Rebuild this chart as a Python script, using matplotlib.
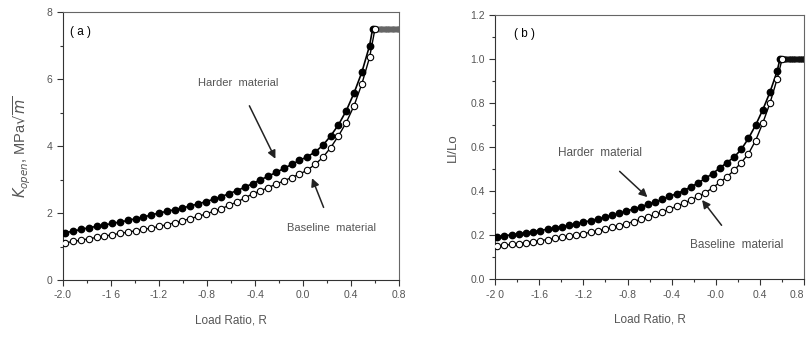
import numpy as np
import matplotlib.pyplot as plt
from matplotlib.ticker import MultipleLocator

plt.rcParams['font.family'] = ['Liberation Sans', 'DejaVu Sans']

# --------------------------
# Data
# --------------------------
# load ratio positions of the markers (shared by all curves)
R = [-1.98, -1.915, -1.85, -1.785, -1.72, -1.655, -1.59, -1.525, -1.46, -1.395,
     -1.33, -1.265, -1.2, -1.135, -1.07, -1.005, -0.94, -0.875, -0.81, -0.745,
     -0.68, -0.615, -0.55, -0.485, -0.42, -0.355, -0.29, -0.225, -0.16, -0.095,
     -0.03, 0.035, 0.1, 0.165, 0.23, 0.295, 0.36, 0.425, 0.49, 0.555]

# (a) K_open, MPa sqrt(m)
k_harder = [1.41, 1.46, 1.51, 1.56, 1.60, 1.64, 1.69, 1.73, 1.78, 1.83,
            1.88, 1.94, 2.00, 2.05, 2.10, 2.15, 2.21, 2.27, 2.34, 2.41,
            2.49, 2.58, 2.67, 2.77, 2.88, 2.99, 3.10, 3.21, 3.33, 3.45,
            3.57, 3.68, 3.82, 4.02, 4.30, 4.63, 5.05, 5.58, 6.20, 7.00]
k_baseline = [1.11, 1.15, 1.19, 1.23, 1.27, 1.31, 1.35, 1.39, 1.43, 1.47,
              1.51, 1.55, 1.60, 1.65, 1.71, 1.77, 1.83, 1.90, 1.97, 2.05,
              2.13, 2.23, 2.33, 2.45, 2.57, 2.66, 2.76, 2.86, 2.96, 3.06,
              3.16, 3.28, 3.45, 3.66, 3.95, 4.30, 4.70, 5.20, 5.85, 6.65]

# (b) Ll/Lo
l_harder = [0.193, 0.197, 0.202, 0.206, 0.211, 0.216, 0.221, 0.227, 0.233, 0.239,
            0.245, 0.252, 0.259, 0.266, 0.274, 0.282, 0.290, 0.299, 0.309, 0.319,
            0.329, 0.340, 0.351, 0.363, 0.376, 0.389, 0.403, 0.420, 0.438, 0.458,
            0.480, 0.505, 0.530, 0.555, 0.590, 0.640, 0.700, 0.770, 0.850, 0.945]
l_baseline = [0.150, 0.154, 0.158, 0.162, 0.166, 0.170, 0.175, 0.180, 0.185, 0.190,
              0.195, 0.201, 0.207, 0.213, 0.220, 0.227, 0.235, 0.243, 0.252, 0.262,
              0.272, 0.283, 0.294, 0.306, 0.318, 0.331, 0.345, 0.360, 0.376, 0.393,
              0.415, 0.440, 0.465, 0.495, 0.530, 0.570, 0.630, 0.710, 0.800, 0.910]

# plateau after the curves saturate
R_flat = [0.58, 0.60, 0.62, 0.64, 0.66, 0.68, 0.70, 0.72, 0.74, 0.76, 0.78, 0.80]
k_flat = [7.5, 7.5, 7.5, 7.5, 7.5, 7.5, 7.5, 7.5, 7.5, 7.5, 7.5, 7.5]
l_flat = [1.0, 1.0, 1.0, 1.0, 1.0, 1.0, 1.0, 1.0, 1.0, 1.0, 1.0, 1.0]
# point where each curve reaches the plateau
R_top_harder = 0.58
R_top_baseline = 0.60

xticks = [-2.0, -1.6, -1.2, -0.8, -0.4, 0.0, 0.4, 0.8]
xlabels_a = ['-2.0', '-1 6', '-1.2', '-0.8', '-0.4', '0.0', '0.4', '0.8']
xlabels_b = ['-2 0', '-1.6', '-1.2', '-0.8', '-0.4', '-0.0', '0.4', '0.8']

TXT = '#555555'

fig = plt.figure(figsize=(8.09, 3.40), dpi=100)
ax1 = fig.add_axes([0.0779, 0.1765, 0.4153, 0.788])
ax2 = fig.add_axes([0.612, 0.179, 0.382, 0.776])


def style_axes(ax, labels):
    ax.set_xlim(-2.0, 0.8)
    ax.set_xticks(xticks)
    ax.set_xticklabels(labels)
    ax.xaxis.set_minor_locator(MultipleLocator(0.2))
    ax.tick_params(which='both', direction='out', colors='#333333',
                   labelcolor=TXT, labelsize=7.5, width=0.8)
    ax.tick_params(which='major', length=4)
    ax.tick_params(which='minor', length=2.5)
    for side in ['left', 'bottom']:
        ax.spines[side].set_color('#333333')
    for side in ['top', 'right']:
        ax.spines[side].set_color('#666666')
    ax.set_xlabel('Load Ratio, R', fontsize=8.5, color=TXT, labelpad=10)


def draw_curves(ax, top, harder, baseline, flat, flat_color):
    ax.plot(R + [R_top_harder], harder + [top], color='black', lw=1.2,
            marker='o', ms=4.6, mfc='black', mec='black', zorder=3)
    ax.plot(R + [R_top_baseline], baseline + [top], color='black', lw=1.0,
            marker='o', ms=4.6, mfc='white', mec='black', mew=0.8, zorder=4)
    ax.plot(R_flat, flat, color=flat_color, lw=3, marker='o', ms=3.5,
            mfc=flat_color, mec=flat_color, zorder=2)


# --------------------------
# (a) Opening stress intensity
# --------------------------
draw_curves(ax1, 7.5, k_harder, k_baseline, k_flat, '#666666')
style_axes(ax1, xlabels_a)
ax1.set_ylim(0, 8)
ax1.yaxis.set_major_locator(MultipleLocator(2))
ax1.yaxis.set_minor_locator(MultipleLocator(1))
ax1.set_ylabel(r'$K_{open}$, MPa$\sqrt{m}$', fontsize=10.5, color=TXT, labelpad=10)
ax1.text(0.02, 0.915, '( a )', transform=ax1.transAxes, fontsize=8.5)
ax1.annotate('Harder  material', xy=(-0.23, 3.62), xytext=(-0.54, 5.88),
             fontsize=8, color=TXT, ha='center', va='center',
             arrowprops=dict(arrowstyle='-|>', color='#222222', lw=1.1,
                             shrinkA=12, shrinkB=0, mutation_scale=12))
ax1.annotate('Baseline  material', xy=(0.075, 3.04), xytext=(0.24, 1.55),
             fontsize=8, color=TXT, ha='center', va='center',
             arrowprops=dict(arrowstyle='-|>', color='#222222', lw=1.1,
                             shrinkA=10, shrinkB=0, mutation_scale=12))

# --------------------------
# (b) Normalised length
# --------------------------
draw_curves(ax2, 1.0, l_harder, l_baseline, l_flat, '#111111')
style_axes(ax2, xlabels_b)
# last label sits at the figure edge; right-align it so it stays visible
ax2.get_xticklabels()[-1].set_horizontalalignment('right')
ax2.set_ylim(0, 1.2)
ax2.yaxis.set_major_locator(MultipleLocator(0.2))
ax2.yaxis.set_minor_locator(MultipleLocator(0.1))
ax2.yaxis.set_major_formatter(plt.FormatStrFormatter('%.1f'))
ax2.set_ylabel('Ll/Lo', fontsize=9.5, color=TXT, labelpad=8)
ax2.text(0.06, 0.917, '( b )', transform=ax2.transAxes, fontsize=8.5)
ax2.annotate('Harder  material', xy=(-0.62, 0.373), xytext=(-1.05, 0.573),
             fontsize=8.5, color=TXT, ha='center', va='center',
             arrowprops=dict(arrowstyle='-|>', color='#222222', lw=1.1,
                             shrinkA=10, shrinkB=0, mutation_scale=12))
ax2.annotate('Baseline  material', xy=(-0.125, 0.36), xytext=(0.19, 0.155),
             fontsize=8.5, color=TXT, ha='center', va='center',
             arrowprops=dict(arrowstyle='-|>', color='#222222', lw=1.1,
                             shrinkA=10, shrinkB=0, mutation_scale=12))

fig.savefig('out.png', dpi=100)
